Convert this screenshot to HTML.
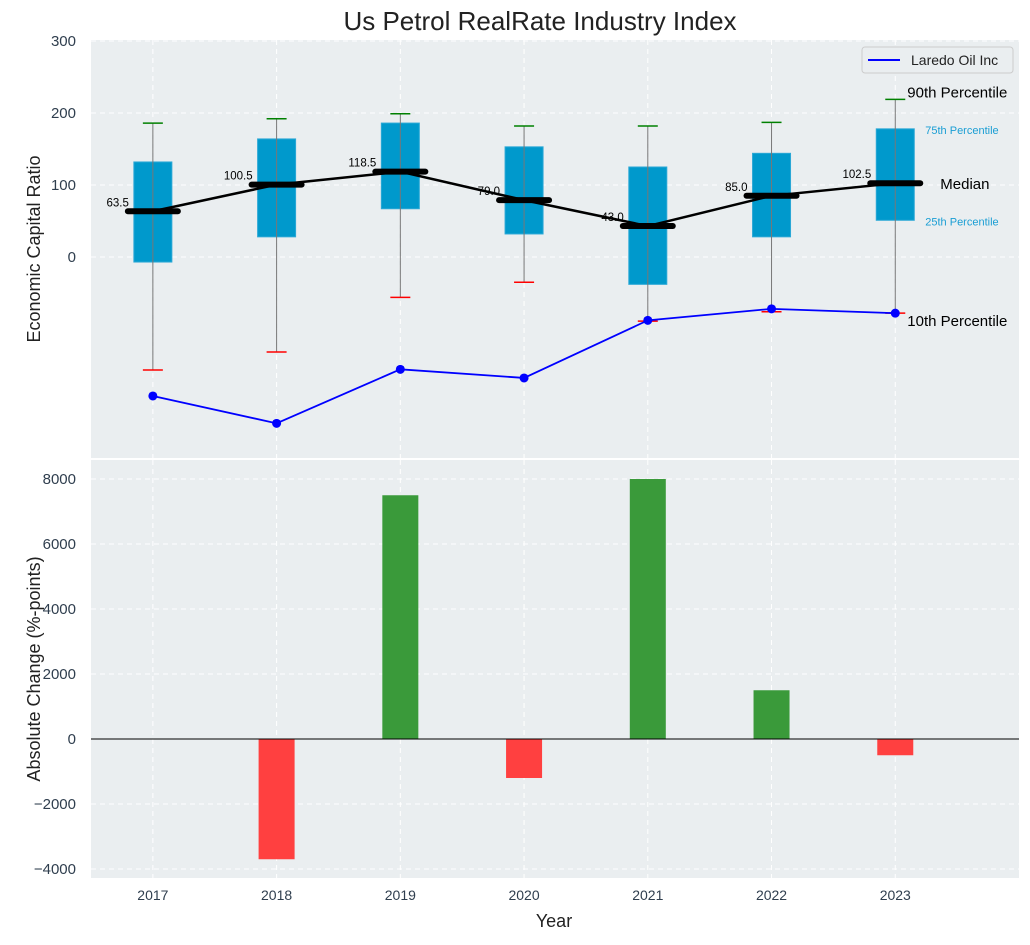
<!DOCTYPE html>
<html><head><meta charset="utf-8"><style>
body{margin:0;background:#fff;font-family:"Liberation Sans",sans-serif}
svg text{font-family:"Liberation Sans",sans-serif}
</style></head><body>
<svg id="c" width="1030" height="940" xmlns="http://www.w3.org/2000/svg"></svg>
<script>
const years=[2017,2018,2019,2020,2021,2022,2023];
const p90=[186,192,199,182,182,187,219];
const p75=[132,164,186,153,125,144,178];
const med=[63.5,100.5,118.5,79.0,43.0,85.0,102.5];
const p25=[-7,28,67,32,-38,28,51];
const p10=[-157,-132,-56,-35,-89,-76,-78];
const laredo=[-193,-231,-156,-168,-88,-72,-78];
const change=[0,-3700,7500,-1200,8000,1500,-500];
const topTicks=[0,100,200,300];
const botTicks=[-4000,-2000,0,2000,4000,6000,8000];

const NS="http://www.w3.org/2000/svg";
const svg=document.getElementById('c');
function el(t,a,txt){const e=document.createElementNS(NS,t);for(const k in a)e.setAttribute(k,a[k]);if(txt!==undefined)e.textContent=txt;svg.appendChild(e);return e;}
const X=v=>91+(v-2016.5)/(2024-2016.5)*928;
const Y1=v=>257-v*0.72;
const Y2=v=>739-v*0.0325;
const L=91,R=1019;
const fmt=v=>String(v).replace('-','\u2212');
let e=el('rect',{x:L,y:40,width:R-L,height:418,fill:'#eaeef0'});

e=el('rect',{x:L,y:460,width:R-L,height:418,fill:'#eaeef0'});

years.forEach(y=>{
  el('line',{x1:X(y),x2:X(y),y1:40,y2:458,stroke:'#fff','stroke-dasharray':'5,4','stroke-width':1});
  el('line',{x1:X(y),x2:X(y),y1:460,y2:878,stroke:'#fff','stroke-dasharray':'5,4','stroke-width':1});
});
topTicks.forEach(t=>{
  el('line',{x1:L,x2:R,y1:Y1(t),y2:Y1(t),stroke:'#fff','stroke-dasharray':'5,4'});
  e=el('text',{x:76,y:Y1(t)+5,'text-anchor':'end','font-size':15,fill:'#2f3e4e'},fmt(t));
  
});
botTicks.forEach(t=>{
  el('line',{x1:L,x2:R,y1:Y2(t),y2:Y2(t),stroke:'#fff','stroke-dasharray':'5,4'});
  e=el('text',{x:76,y:Y2(t)+5,'text-anchor':'end','font-size':15,fill:'#2f3e4e'},fmt(t));
  
});
years.forEach((y,i)=>{
  const x=X(y);
  e=el('rect',{x:x-19,y:Y1(p75[i]),width:38,height:Y1(p25[i])-Y1(p75[i]),fill:'#0099cc',stroke:'#2ba8d6','stroke-width':1});
  
  el('line',{x1:x,x2:x,y1:Y1(p90[i]),y2:Y1(p10[i]),stroke:'#777','stroke-width':1});
  el('line',{x1:x-10,x2:x+10,y1:Y1(p90[i]),y2:Y1(p90[i]),stroke:'green','stroke-width':1.5});
  el('line',{x1:x-10,x2:x+10,y1:Y1(p10[i]),y2:Y1(p10[i]),stroke:'red','stroke-width':1.5});
});
el('polyline',{points:years.map((y,i)=>X(y)+','+Y1(med[i])).join(' '),fill:'none',stroke:'#000','stroke-width':2.5});
years.forEach((y,i)=>{
  const x=X(y);
  e=el('line',{x1:x-25,x2:x+25,y1:Y1(med[i]),y2:Y1(med[i]),stroke:'#000','stroke-width':6,'stroke-linecap':'round'});
  
  el('text',{x:x-24,y:Y1(med[i])-5,'text-anchor':'end','font-size':11.5,fill:'#000'},med[i].toFixed(1));
});
el('polyline',{points:years.map((y,i)=>X(y)+','+Y1(laredo[i])).join(' '),fill:'none',stroke:'blue','stroke-width':1.8});
years.forEach((y,i)=>{e=el('circle',{cx:X(y),cy:Y1(laredo[i]),r:4.5,fill:'blue'});
  });
const xl=X(2023);
el('text',{x:xl+12,y:Y1(p90[6])-2,'font-size':15,fill:'#000'},'90th Percentile');
el('text',{x:xl+30,y:Y1(p75[6])+5,'font-size':11,fill:'#1a9ed4'},'75th Percentile');
el('text',{x:xl+45,y:Y1(med[6])+6,'font-size':15,fill:'#000'},'Median');
el('text',{x:xl+30,y:Y1(p25[6])+5,'font-size':11,fill:'#1a9ed4'},'25th Percentile');
el('text',{x:xl+12,y:Y1(p10[6])+13,'font-size':15,fill:'#000'},'10th Percentile');
e=el('rect',{x:862,y:47,width:151,height:26,fill:'#eaeef0',stroke:'#ccc',rx:3});

el('line',{x1:868,x2:900,y1:60,y2:60,stroke:'blue','stroke-width':2});
el('text',{x:911,y:65,'font-size':14,fill:'#222'},'Laredo Oil Inc');
years.forEach((y,i)=>{
  const v=change[i];if(v===0)return;
  e=el('rect',{x:X(y)-18,y:Math.min(Y2(v),Y2(0)),width:36,height:Math.abs(Y2(v)-Y2(0)),fill:v>0?'#3a9a3a':'#ff4040'});
  
});
el('line',{x1:L,x2:R,y1:Y2(0),y2:Y2(0),stroke:'#000','stroke-width':1});
years.forEach(y=>{e=el('text',{x:X(y),y:900,'text-anchor':'middle','font-size':14,fill:'#2f3e4e'},y);
  });
e=el('text',{x:540,y:30,'text-anchor':'middle','font-size':26,fill:'#222'},'Us Petrol RealRate Industry Index');

e=el('text',{x:554,y:927,'text-anchor':'middle','font-size':18,fill:'#222'},'Year');

e=el('text',{x:0,y:0,'text-anchor':'middle','font-size':18,fill:'#222',transform:'translate(40,249) rotate(-90)'},'Economic Capital Ratio');

e=el('text',{x:0,y:0,'text-anchor':'middle','font-size':18,fill:'#222',transform:'translate(40,669) rotate(-90)'},'Absolute Change (%-points)');

</script>
</body></html>
